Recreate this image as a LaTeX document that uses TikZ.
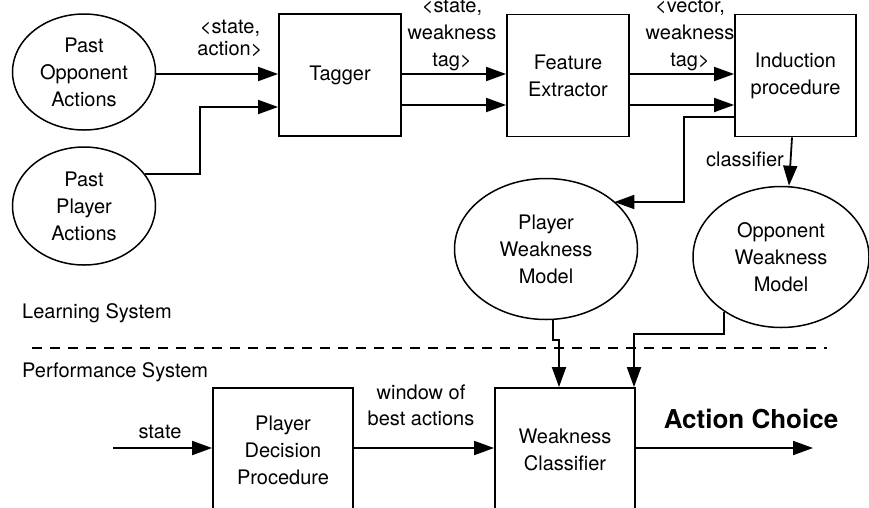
\documentclass[tikz,border=0pt]{standalone}
\usepackage{fontspec}
\setmainfont{TeX Gyre Heros}
\usetikzlibrary{shapes.geometric,arrows.meta}
\begin{document}
\begin{tikzpicture}[x=1pt,y=-1pt,
  lbl/.style={font=\fontsize{20}{27}\selectfont, align=center, inner sep=0pt},
  blk/.style={draw, line width=1.8pt, rectangle, minimum width=122pt, minimum height=122pt, lbl},
  ell/.style={draw, ellipse, line width=1.5pt, lbl},
  arr/.style={line width=1.8pt, -{Triangle[length=20pt,width=14pt]}}]
\useasboundingbox (0,0) rectangle (869,507);
\clip (0,0) rectangle (869,507);
% nodes
\node[ell, minimum width=143pt, minimum height=116pt] (po) at (84,72) {Past\\Opponent\\Actions};
\node[ell, minimum width=143pt, minimum height=118pt] (pp) at (84,206) {Past\\Player\\Actions};
\node[blk] (tag) at (340,75) {Tagger};
\node[blk] (fe) at (568,75.5) {Feature\\Extractor};
\node[blk, minimum width=121pt] (ip) at (795.5,75.5) {Induction\\procedure};
\node[ell, minimum width=183pt, minimum height=141pt] (pw) at (546,249) {Player\\Weakness\\Model};
\node[ell, minimum width=176pt, minimum height=141pt] (ow) at (781,257) {Opponent\\Weakness\\Model};
\node[blk, minimum width=140pt, minimum height=124pt] (pdp) at (283,450) {Player\\Decision\\Procedure};
\node[blk, minimum width=140pt, minimum height=124pt] (wc) at (565,450) {Weakness\\Classifier};
% labels
\node[lbl, font=\fontsize{20}{22}\selectfont] (l1) at (230,39) {\textless state,\\action\textgreater};
\node[lbl] (l2) at (452,35) {\textless state,\\weakness\\tag\textgreater};
\node[lbl] (l3) at (690,35) {\textless vector,\\weakness\\tag\textgreater};
\node[lbl] (l4) at (745,159) {classifier};
\node[lbl, anchor=west] (ls) at (22,313) {Learning System};
\node[lbl, anchor=west] (ps) at (22,372) {Performance System};
\node[lbl] (l5) at (160,432) {state};
\node[lbl, font=\fontsize{20}{26}\selectfont] (l6) at (421,405) {window of\\best actions};
\node[lbl, font=\fontsize{26}{30}\selectfont\bfseries] (ac) at (751,419) {Action Choice};
% dashed separator
\coordinate (d1) at (32,348);
\coordinate (d2) at (827,348);
\draw[line width=1.5pt, dash pattern=on 10pt off 8pt] (d1) -- (d2);
% connectors
\draw[arr] (po.east |- 0,74) -- (tag.west |- 0,74);
\draw[arr] (pp.28) -| (200,107) -- (tag.west |- 0,107);
\draw[arr] (tag.east |- 0,74) -- (fe.west |- 0,74);
\draw[arr] (tag.east |- 0,105) -- (fe.west |- 0,105);
\draw[arr] (fe.east |- 0,74) -- (ip.west |- 0,74);
\draw[arr] (fe.east |- 0,105) -- (ip.west |- 0,105);
\draw[arr] (ip.west |- 0,117) -| (684,202) -- (pw.35 |- 684,202);
\draw[arr] (ip.south -| 792,0) -- (ow.north -| 789,0);
\draw[arr] (pw.south -| 553,0) -- (553,340) -- (559,340) -- (wc.north -| 559,0);
\draw[arr] (ow.224) |- (634,334) -- (wc.north -| 634,0);
\coordinate (s0) at (113,448);
\draw[arr] (s0) -- (pdp.west |- s0);
\draw[arr] (pdp.east |- 0,448) -- (wc.west |- 0,448);
\coordinate (out) at (813,448);
\draw[arr] (wc.east |- 0,448) -- (out);
\end{tikzpicture}
\end{document}
